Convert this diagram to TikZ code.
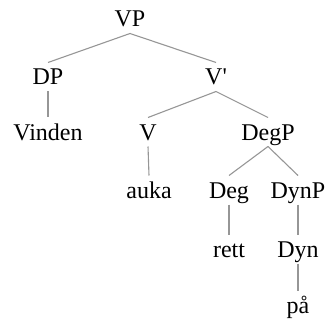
\documentclass[tikz,border=0pt]{standalone}
\usepackage{fontspec}
\setmainfont{Liberation Serif}
\newfontfamily\rawserif{Liberation Serif}
\definecolor{branch}{RGB}{150,150,150}
\begin{document}
\begin{tikzpicture}[x=1pt,y=-1pt,
  lbl/.style={anchor=base,font=\fontsize{24}{27}\selectfont,text height=16pt,text depth=0pt,inner xsep=0pt,inner ysep=0pt,outer ysep=6.5pt},
  br/.style={draw=branch,line width=1.1pt}]
\useasboundingbox (0,0) rectangle (328,320);
\node[lbl] (VP) at (130,27) {VP};
\node[lbl] (DP) at (48,85) {DP};
\node[lbl] (Vb) at (216,85) {{\rawserif V'}};
\node[lbl] (Vinden) at (48,140) {Vinden};
\node[lbl] (V) at (148,140) {V};
\node[lbl] (DegP) at (268,140) {DegP};
\node[lbl] (auka) at (149,198) {auka};
\node[lbl] (Deg) at (229,198) {Deg};
\node[lbl] (DynP) at (298,198) {DynP};
\node[lbl] (rett) at (229,257) {rett};
\node[lbl] (Dyn) at (298,257) {Dyn};
\node[lbl] (paa) at (298,313) {på};
\draw[br] (VP.south) -- (DP.north);
\draw[br] (VP.south) -- (Vb.north);
\draw[br] (DP.south) -- (Vinden.north);
\draw[br] (Vb.south) -- (V.north);
\draw[br] (Vb.south) -- (DegP.north);
\draw[br] (V.south) -- (auka.north);
\draw[br] (DegP.south) -- (Deg.north);
\draw[br] (DegP.south) -- (DynP.north);
\draw[br] (Deg.south) -- (rett.north);
\draw[br] (DynP.south) -- (Dyn.north);
\draw[br] (Dyn.south) -- (paa.north);
\end{tikzpicture}
\end{document}
